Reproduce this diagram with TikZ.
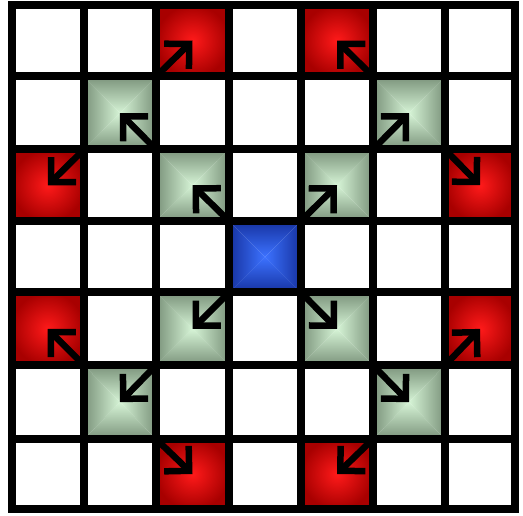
\documentclass[tikz,border=0pt]{standalone}
\usetikzlibrary{arrows.meta,fit}
\definecolor{reddk}{HTML}{A80000}
\definecolor{redlt}{HTML}{FF1A1A}
\definecolor{grndk}{HTML}{7B937B}
\definecolor{grnlt}{HTML}{D6F4D6}
\definecolor{bludk}{HTML}{1632A0}
\definecolor{blult}{HTML}{3C72FF}
\tikzset{
  cellbox/.style={inner sep=0pt, outer sep=0pt, fill=white},
  gridline/.style={line width=8pt, black, line cap=rect, line join=miter},
  movearrow/.style={line width=6.5pt, black, -{Straight Barb[angle=90:25pt, line width=6.5pt]}},
}
\newcommand{\pyrshade}[3]{%
  \shade[top color=#2, bottom color=#3] (#1.north west) -- (#1.north east) -- (#1.center) -- cycle;
  \shade[bottom color=#2, top color=#3] (#1.south west) -- (#1.south east) -- (#1.center) -- cycle;
  \shade[left color=#2, right color=#3] (#1.north west) -- (#1.south west) -- (#1.center) -- cycle;
  \shade[right color=#2, left color=#3] (#1.north east) -- (#1.south east) -- (#1.center) -- cycle;
}
\newcommand{\radshade}[3]{%
  \shade[inner color=#3, outer color=#2] (#1.north west) rectangle (#1.south east);
}
\begin{document}
\begin{tikzpicture}[x=1pt,y=-1pt]
\useasboundingbox[fill=white] (0,0) rectangle (523,516);
% grid intersections
\foreach \xv [count=\i from 0] in {11.5,84,156,229,301,373,445,515}{
  \foreach \yv [count=\j from 0] in {5,76.5,149.5,221,292.5,365.3,439,509}{
    \coordinate (g-\i-\j) at (\xv,\yv);
  }
}
% cells
\foreach \i [evaluate=\i as \ii using int(\i+1)] in {0,...,6}{
  \foreach \j [evaluate=\j as \jj using int(\j+1)] in {0,...,6}{
    \node[cellbox, fit=(g-\i-\j)(g-\ii-\jj)] (c-\i-\j) {};
  }
}
% coloured cells
\pyrshade{c-3-3}{bludk}{blult}
\foreach \c in {c-2-2,c-4-2,c-1-1,c-5-1,c-2-4,c-4-4,c-1-5,c-5-5}{\pyrshade{\c}{grndk}{grnlt}}
\foreach \c in {c-2-0,c-4-0,c-0-2,c-6-2,c-0-4,c-6-4,c-2-6,c-4-6}{\radshade{\c}{reddk}{redlt}}
% grid lines
\foreach \k in {0,...,7}{
  \draw[gridline] (g-\k-0) -- (g-\k-7);
  \draw[gridline] (g-0-\k) -- (g-7-\k);
}
% arrows
\draw[movearrow] (g-3-3) -- (c-2-2.center);
\draw[movearrow] (g-2-2) -- (c-1-1.center);
\draw[movearrow] (g-1-2) -- (c-0-2.center);
\draw[movearrow] (g-2-1) -- (c-2-0.center);
\draw[movearrow] (g-4-3) -- (c-4-2.center);
\draw[movearrow] (g-5-2) -- (c-5-1.center);
\draw[movearrow] (g-5-1) -- (c-4-0.center);
\draw[movearrow] (g-6-2) -- (c-6-2.center);
\draw[movearrow] (g-3-4) -- (c-2-4.center);
\draw[movearrow] (g-2-5) -- (c-1-5.center);
\draw[movearrow] (g-1-5) -- (c-0-4.center);
\draw[movearrow] (g-2-6) -- (c-2-6.center);
\draw[movearrow] (g-4-4) -- (c-4-4.center);
\draw[movearrow] (g-5-5) -- (c-5-5.center);
\draw[movearrow] (g-6-5) -- (c-6-4.center);
\draw[movearrow] (g-5-6) -- (c-4-6.center);
\end{tikzpicture}
\end{document}
